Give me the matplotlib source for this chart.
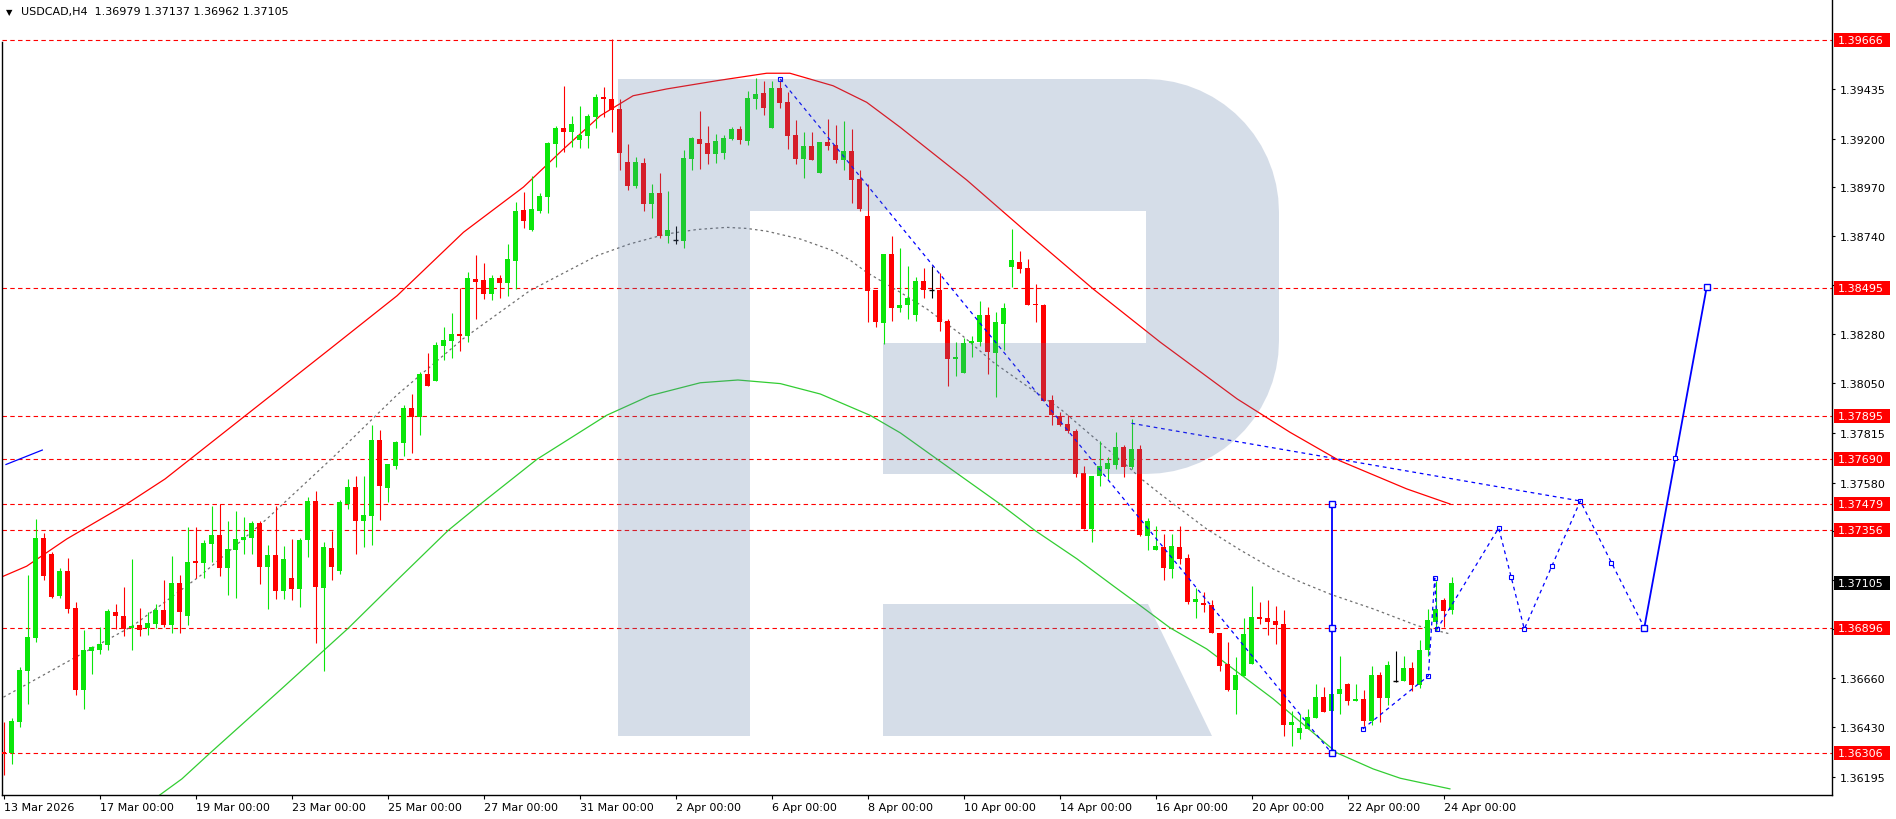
import matplotlib
matplotlib.use('Agg')
import matplotlib.pyplot as plt
import matplotlib.transforms as mtransforms
from matplotlib.path import Path
from matplotlib.patches import PathPatch, Rectangle
import numpy as np

# USDCAD H4 candles, 13 Mar 2026 00:00 .. 24 Apr 2026 04:00
opens = [1.36313, 1.36306, 1.36454, 1.36690, 1.36850, 1.37319, 1.37244, 1.37046, 1.37164, 1.36989,
         1.36605, 1.36788, 1.36792, 1.36817, 1.36971, 1.36952, 1.36894, 1.36909, 1.36894, 1.36914,
         1.36980, 1.36911, 1.37107, 1.36952, 1.37212, 1.37203, 1.37292, 1.37333, 1.37179, 1.37264,
         1.37307, 1.37321, 1.37390, 1.37184, 1.37239, 1.37071, 1.37128, 1.37080, 1.37307, 1.37493,
         1.37085, 1.37272, 1.37165, 1.37479, 1.37559, 1.37401, 1.37424, 1.37780, 1.37554, 1.37658,
         1.37768, 1.37931, 1.37890, 1.38093, 1.38060, 1.38225, 1.38247, 1.38280, 1.38272, 1.38539,
         1.38534, 1.38468, 1.38544, 1.38520, 1.38625, 1.38864, 1.38770, 1.38858, 1.38927, 1.39175,
         1.39250, 1.39233, 1.39194, 1.39212, 1.39303, 1.39394, 1.39389, 1.39339, 1.39090, 1.38978,
         1.39085, 1.38893, 1.38944, 1.38739, 1.38724, 1.38719, 1.39105, 1.39198, 1.39179, 1.39129,
         1.39134, 1.39198, 1.39245, 1.39190, 1.39388, 1.39415, 1.39251, 1.39438, 1.39372, 1.39217,
         1.39105, 1.39165, 1.39039, 1.39184, 1.39170, 1.39101, 1.39141, 1.39009, 1.38835, 1.38487,
         1.38333, 1.38656, 1.38404, 1.38414, 1.38367, 1.38530, 1.38489, 1.38489, 1.38343, 1.38162,
         1.38098, 1.38235, 1.38244, 1.38371, 1.38192, 1.38329, 1.38597, 1.38621, 1.38591, 1.38418,
         1.38418, 1.37969, 1.37892, 1.37856, 1.37823, 1.37625, 1.37362, 1.37610, 1.37643, 1.37663,
         1.37748, 1.37652, 1.37739, 1.37330, 1.37264, 1.37277, 1.37175, 1.37277, 1.37225, 1.37019,
         1.37013, 1.37004, 1.36873, 1.36723, 1.36603, 1.36671, 1.36723, 1.36947, 1.36943, 1.36928,
         1.36914, 1.36440, 1.36402, 1.36421, 1.36473, 1.36570, 1.36506, 1.36583, 1.36632, 1.36553,
         1.36561, 1.36459, 1.36674, 1.36567, 1.36647, 1.36647, 1.36705, 1.36628, 1.36792, 1.36924,
         1.37027, 1.36979]
highs = [1.36451, 1.36473, 1.36713, 1.37145, 1.37409, 1.37343, 1.37253, 1.37176, 1.37225, 1.37018,
         1.36886, 1.36812, 1.36898, 1.36982, 1.37008, 1.37090, 1.37220, 1.36989, 1.36969, 1.37008,
         1.37123, 1.37234, 1.37143, 1.37371, 1.37371, 1.37310, 1.37471, 1.37478, 1.37399, 1.37446,
         1.37418, 1.37399, 1.37399, 1.37286, 1.37470, 1.37281, 1.37314, 1.37319, 1.37514, 1.37540,
         1.37302, 1.37352, 1.37500, 1.37597, 1.37612, 1.37612, 1.37851, 1.37828, 1.37667, 1.37777,
         1.37945, 1.37997, 1.38099, 1.38190, 1.38241, 1.38313, 1.38379, 1.38495, 1.38570, 1.38652,
         1.38614, 1.38558, 1.38558, 1.38704, 1.38900, 1.38950, 1.39022, 1.38942, 1.39184, 1.39261,
         1.39449, 1.39308, 1.39355, 1.39316, 1.39412, 1.39445, 1.39667, 1.39389, 1.39174, 1.39113,
         1.39108, 1.38986, 1.39038, 1.38951, 1.38790, 1.39146, 1.39209, 1.39330, 1.39259, 1.39221,
         1.39217, 1.39254, 1.39259, 1.39422, 1.39485, 1.39471, 1.39473, 1.39477, 1.39421, 1.39287,
         1.39231, 1.39231, 1.39184, 1.39292, 1.39264, 1.39283, 1.39245, 1.39052, 1.38986, 1.38487,
         1.38656, 1.38741, 1.38685, 1.38600, 1.38549, 1.38591, 1.38600, 1.38567, 1.38348, 1.38241,
         1.38263, 1.38272, 1.38436, 1.38409, 1.38385, 1.38426, 1.38775, 1.38671, 1.38633, 1.38516,
         1.38423, 1.37993, 1.37911, 1.37899, 1.37833, 1.37660, 1.37610, 1.37775, 1.37699, 1.37820,
         1.37757, 1.37880, 1.37757, 1.37412, 1.37377, 1.37338, 1.37338, 1.37376, 1.37244, 1.37084,
         1.37065, 1.37027, 1.36873, 1.36829, 1.36760, 1.36943, 1.37093, 1.37018, 1.37027, 1.36999,
         1.36980, 1.36506, 1.36492, 1.36511, 1.36629, 1.36618, 1.36583, 1.36764, 1.36636, 1.36632,
         1.36605, 1.36718, 1.36687, 1.36740, 1.36787, 1.36764, 1.36734, 1.36839, 1.36985, 1.37118,
         1.37037, 1.37137]
lows = [1.36200, 1.36255, 1.36427, 1.36537, 1.36828, 1.37123, 1.37038, 1.37038, 1.36967, 1.36577,
        1.36515, 1.36679, 1.36774, 1.36793, 1.36891, 1.36859, 1.36793, 1.36859, 1.36864, 1.36894,
        1.36901, 1.36873, 1.36869, 1.36911, 1.37132, 1.37132, 1.37205, 1.37142, 1.37048, 1.37038,
        1.37241, 1.37241, 1.37104, 1.36986, 1.37033, 1.37033, 1.37029, 1.36996, 1.37231, 1.36826,
        1.36690, 1.37123, 1.37151, 1.37453, 1.37244, 1.37278, 1.37287, 1.37404, 1.37487, 1.37644,
        1.37705, 1.37721, 1.37804, 1.38036, 1.38060, 1.38157, 1.38167, 1.38201, 1.38244, 1.38350,
        1.38445, 1.38441, 1.38449, 1.38460, 1.38492, 1.38779, 1.38765, 1.38850, 1.38850, 1.39065,
        1.39135, 1.39159, 1.39156, 1.39156, 1.39250, 1.39303, 1.39232, 1.39053, 1.38958, 1.38967,
        1.38860, 1.38826, 1.38730, 1.38708, 1.38703, 1.38686, 1.39053, 1.39057, 1.39082, 1.39086,
        1.39105, 1.39193, 1.39174, 1.39171, 1.39339, 1.39313, 1.39251, 1.39344, 1.39151, 1.39082,
        1.39016, 1.39101, 1.39039, 1.39148, 1.39086, 1.39053, 1.38898, 1.38860, 1.38338, 1.38314,
        1.38232, 1.38342, 1.38385, 1.38348, 1.38343, 1.38447, 1.38447, 1.38296, 1.38037, 1.38084,
        1.38098, 1.38173, 1.38225, 1.38093, 1.37985, 1.38206, 1.38503, 1.38567, 1.38414, 1.38338,
        1.37966, 1.37852, 1.37847, 1.37815, 1.37605, 1.37362, 1.37302, 1.37563, 1.37597, 1.37644,
        1.37605, 1.37644, 1.37330, 1.37260, 1.37264, 1.37123, 1.37132, 1.37194, 1.37010, 1.36944,
        1.36972, 1.36869, 1.36694, 1.36596, 1.36489, 1.36671, 1.36723, 1.36914, 1.36862, 1.36820,
        1.36388, 1.36341, 1.36374, 1.36421, 1.36473, 1.36501, 1.36506, 1.36489, 1.36534, 1.36553,
        1.36435, 1.36440, 1.36454, 1.36534, 1.36640, 1.36643, 1.36596, 1.36614, 1.36765, 1.36886,
        1.36900, 1.36962]
closes = [1.36302, 1.36457, 1.36697, 1.36853, 1.37319, 1.37142, 1.37043, 1.37164, 1.36986, 1.36605,
          1.36792, 1.36806, 1.36820, 1.36975, 1.36949, 1.36891, 1.36905, 1.36883, 1.36919, 1.36980,
          1.36911, 1.37107, 1.36972, 1.37206, 1.37203, 1.37296, 1.37333, 1.37179, 1.37267, 1.37314,
          1.37324, 1.37390, 1.37184, 1.37239, 1.37071, 1.37220, 1.37080, 1.37311, 1.37493, 1.37090,
          1.37277, 1.37184, 1.37489, 1.37559, 1.37401, 1.37429, 1.37780, 1.37565, 1.37667, 1.37771,
          1.37931, 1.37890, 1.38093, 1.38036, 1.38230, 1.38252, 1.38280, 1.38272, 1.38544, 1.38526,
          1.38468, 1.38544, 1.38520, 1.38633, 1.38858, 1.38814, 1.38869, 1.38930, 1.39179, 1.39250,
          1.39233, 1.39269, 1.39217, 1.39307, 1.39398, 1.39387, 1.39336, 1.39132, 1.38978, 1.39090,
          1.38893, 1.38944, 1.38739, 1.38768, 1.38724, 1.39108, 1.39203, 1.39176, 1.39129, 1.39188,
          1.39203, 1.39245, 1.39193, 1.39391, 1.39410, 1.39345, 1.39438, 1.39369, 1.39212, 1.39105,
          1.39165, 1.39101, 1.39184, 1.39167, 1.39101, 1.39141, 1.39006, 1.38868, 1.38484, 1.38338,
          1.38656, 1.38403, 1.38417, 1.38450, 1.38530, 1.38489, 1.38489, 1.38338, 1.38162, 1.38172,
          1.38239, 1.38249, 1.38371, 1.38197, 1.38338, 1.38404, 1.38626, 1.38588, 1.38418, 1.38414,
          1.37966, 1.37899, 1.37852, 1.37823, 1.37619, 1.37362, 1.37610, 1.37658, 1.37673, 1.37748,
          1.37652, 1.37739, 1.37335, 1.37401, 1.37279, 1.37178, 1.37282, 1.37220, 1.37019, 1.37032,
          1.37001, 1.36869, 1.36718, 1.36603, 1.36674, 1.36867, 1.36947, 1.36938, 1.36924, 1.36910,
          1.36440, 1.36450, 1.36424, 1.36475, 1.36570, 1.36501, 1.36583, 1.36608, 1.36553, 1.36561,
          1.36459, 1.36674, 1.36567, 1.36721, 1.36647, 1.36705, 1.36628, 1.36792, 1.36933, 1.36985,
          1.36977, 1.37105]

date_ticks = [0, 12, 24, 36, 48, 60, 72, 84, 96, 108, 120, 132, 144, 156, 168, 180]
date_labels = ['13 Mar 2026', '17 Mar 00:00', '19 Mar 00:00', '23 Mar 00:00', '25 Mar 00:00',
               '27 Mar 00:00', '31 Mar 00:00', '2 Apr 00:00', '6 Apr 00:00', '8 Apr 00:00',
               '10 Apr 00:00', '14 Apr 00:00', '16 Apr 00:00', '20 Apr 00:00', '22 Apr 00:00',
               '24 Apr 00:00']
price_ticks = [1.39435, 1.39200, 1.38970, 1.38740, 1.38510, 1.38280, 1.38050, 1.37815, 1.37580,
               1.37350, 1.37120, 1.36890, 1.36660, 1.36430, 1.36195]
levels = [1.39666, 1.38495, 1.37895, 1.37690, 1.37479, 1.37356, 1.36896, 1.36306]
bid = 1.37105

# indicator lines (bar index, price)
mid_x = [0, 7.9, 16.2, 24.6, 32.9, 41.2, 49.2, 57.4, 65.8, 74.2, 78.3, 82.9, 86.7, 90.4, 92.9,
         95.4, 99.6, 103.7, 105.8, 107.9, 112.1, 115.4, 119.6, 123.7, 127.9, 132.1, 136.2, 140.4,
         142.4, 144.6, 150.4, 154.6, 158.7, 162.1, 166, 171.2, 176.7, 180.8]
mid_y = [1.36569, 1.36734, 1.36906, 1.37141, 1.37408, 1.37699, 1.37993, 1.38256, 1.38484, 1.38649,
         1.38704, 1.38751, 1.38772, 1.38782, 1.38777, 1.38764, 1.38727, 1.38672, 1.38628, 1.38570,
         1.38476, 1.38398, 1.38280, 1.38147, 1.38035, 1.37927, 1.37795, 1.37660, 1.37592, 1.37526,
         1.37361, 1.37262, 1.37173, 1.37112, 1.37052, 1.36985, 1.36906, 1.36867]
up_x = [0, 2.9, 7.9, 15.4, 20.2, 30.5, 40.8, 49.2, 57.5, 65, 70, 74.6, 78.7, 82.9, 89.2, 95.4,
        98.3, 103.7, 107.9, 112.1, 120.4, 127.9, 136.2, 144.6, 154.2, 160.8, 167, 175.4, 180.8]
up_y = [1.37139, 1.37186, 1.37314, 1.37479, 1.37597, 1.37903, 1.38209, 1.38460, 1.38759, 1.38972,
        1.39151, 1.39308, 1.39402, 1.39434, 1.39473, 1.39508, 1.39508, 1.39449, 1.39371, 1.39253,
        1.39005, 1.38759, 1.38492, 1.38241, 1.37974, 1.37817, 1.37683, 1.37550, 1.37479]
lo_x = [19.2, 22.3, 25.8, 34.6, 43.1, 49.6, 55.6, 59.6, 66.7, 75.4, 80.8, 87.1, 91.8, 97.1, 102.1,
        108.3, 112.1, 116.7, 124.6, 128.9, 134.2, 138.8, 142.1, 145.8, 150.4, 158.7, 166.7, 171.2,
        174.6, 180.8]
lo_y = [1.36099, 1.36184, 1.36305, 1.36603, 1.36894, 1.37135, 1.37355, 1.37478, 1.37690, 1.37897,
        1.37989, 1.38050, 1.38063, 1.38046, 1.37997, 1.37897, 1.37814, 1.37690, 1.37478, 1.37355,
        1.37220, 1.37091, 1.37000, 1.36896, 1.36796, 1.36561, 1.36306, 1.36231, 1.36187, 1.36137]

# drawn objects
left_x = [0.31, 4.85]
left_y = [1.37665, 1.37733]
down_x = [97.1, 166]
down_y = [1.39481, 1.36306]
flat_x = [141, 197.1]
flat_y = [1.37859, 1.37493]
vert_bar = 166
vert_y = [1.37479, 1.36896, 1.36306]
fc_x = [169.9, 178.1, 178.9, 179.2, 186.9, 190.1, 197.1, 205.1]
fc_y = [1.36419, 1.36669, 1.37130, 1.36890, 1.37366, 1.36890, 1.37493, 1.36896]
fs_x = [205.1, 212.9]
fs_y = [1.36896, 1.38501]
mk_x = [188.4, 193.5, 200.9, 208.9]
mk_y = [1.37135, 1.37188, 1.37202, 1.37696]

GREEN = '#0ae60a'
RED = '#ff0000'
BLUE = '#0000ff'

W, H = 1896, 820
fig = plt.figure(figsize=(W / 100, H / 100), dpi=100)
ax = fig.add_axes([2 / W, 24 / H, 1830 / W, 795 / H])
ax.set_xlim(-0.1875, 228.56)
ax.set_ylim(1.361081, 1.398530)
ppx = 795 / (1.398530 - 1.361081)  # pixels per price unit

for lv in levels:
    ax.axhline(lv, color=RED, lw=0.8, ls=(0, (4, 3)), zorder=1)

ax.plot(up_x, up_y, color=RED, lw=0.9, zorder=2)
ax.plot(mid_x, mid_y, color='#707070', lw=0.9, ls=(0, (2, 2.5)), zorder=2)
ax.plot(lo_x, lo_y, color='#32cd32', lw=0.9, zorder=2)

# candles
o = np.array(opens); h = np.array(highs); l = np.array(lows); c = np.array(closes)
x = np.arange(len(o))
up = c > o
dn = c < o
dj = c == o
minh = 1.2 / ppx
ax.vlines(x[up], l[up], h[up], color=GREEN, lw=0.8, zorder=3)
ax.vlines(x[dn], l[dn], h[dn], color=RED, lw=0.8, zorder=3)
ax.vlines(x[dj], l[dj], h[dj], color='k', lw=0.8, zorder=3)
ax.bar(x[up], np.maximum(c - o, minh)[up], bottom=o[up], width=0.625, color=GREEN, lw=0, zorder=3.5)
ax.bar(x[dn], np.maximum(o - c, minh)[dn], bottom=c[dn], width=0.625, color=RED, lw=0, zorder=3.5)
ax.hlines(c[dj], x[dj] - 0.3125, x[dj] + 0.3125, color='k', lw=1, zorder=3.5)

# blue drawings
ax.plot(left_x, left_y, color=BLUE, lw=0.9, zorder=4)
ax.plot(down_x, down_y, color=BLUE, lw=0.9, ls=(0, (3, 3)), zorder=4)
ax.plot(flat_x, flat_y, color=BLUE, lw=0.9, ls=(0, (3, 3)), zorder=4)
ax.plot([vert_bar, vert_bar], [vert_y[0], vert_y[-1]], color=BLUE, lw=1.3, zorder=4)
ax.plot([vert_bar] * 3, vert_y, ls='none', marker='s', ms=5, mfc='white', mec=BLUE, mew=1, zorder=4.5)
ax.plot(fc_x, fc_y, color=BLUE, lw=0.9, ls=(0, (3, 3)), zorder=4)
ax.plot(fc_x, fc_y, ls='none', marker='s', ms=3.5, mfc='none', mec=BLUE, mew=0.8, zorder=4.5)
ax.plot(fs_x, fs_y, color=BLUE, lw=1.3, zorder=4)
ax.plot(fs_x, fs_y, ls='none', marker='s', ms=5, mfc='white', mec=BLUE, mew=1, zorder=4.5)
ax.plot(mk_x, mk_y, ls='none', marker='s', ms=3.5, mfc='white', mec=BLUE, mew=0.8, zorder=4.5)
ax.plot(down_x[:1], down_y[:1], ls='none', marker='s', ms=3.5, mfc='none', mec=BLUE, mew=0.8, zorder=4.5)


# watermark logo, pixel outline -> axes fraction
def frac(px_, py_):
    return ((px_ - 2) / 1830, (796 - py_) / 795)


t = np.linspace(0, np.pi / 2, 16)
outline = [(618, 80), (1146, 80)]
outline += [(1146 + 133 * np.sin(a), 213 - 133 * np.cos(a)) for a in t]
outline += [(1146 + 133 * np.cos(a), 342 + 133 * np.sin(a)) for a in t]
outline += [(883, 475), (883, 344), (1146, 344), (1146, 212), (750, 212), (750, 737), (618, 737), (618, 80)]
leg = [(883, 605), (1148, 605), (1212, 737), (883, 737), (883, 605)]
verts, codes = [], []
for poly in (outline, leg):
    verts += [frac(*p) for p in poly]
    codes += [Path.MOVETO] + [Path.LINETO] * (len(poly) - 2) + [Path.CLOSEPOLY]
ax.add_patch(PathPatch(Path(verts, codes), transform=ax.transAxes, facecolor='#5a78a5',
                       edgecolor='none', alpha=0.25, zorder=6))

# axes look
ax.spines['top'].set_visible(False)
ax.spines['left'].set_bounds(1.361081, 1.39655)
for s in ['left', 'right', 'bottom']:
    ax.spines[s].set_linewidth(1)
ax.yaxis.tick_right()
ax.set_yticks(price_ticks, ['%.5f' % p for p in price_ticks])
ax.tick_params(axis='y', direction='out', length=2.5, width=0.8, pad=3, labelsize=8)
ax.set_xticks(date_ticks, date_labels)
ax.tick_params(axis='x', direction='out', length=3, width=0.8, pad=2, labelsize=8)
for lab in ax.get_xticklabels():
    lab.set_ha('left')

tr = mtransforms.blended_transform_factory(ax.transAxes, ax.transData)
bx0 = (1834 - 2) / 1830
bw = 56 / 1830
bh = 14 / ppx
for lv, col in [(lv, RED) for lv in levels] + [(bid, 'black')]:
    ax.add_patch(Rectangle((bx0, lv - bh / 2), bw, bh, transform=tr, facecolor=col,
                           edgecolor='none', clip_on=False, zorder=20))
    ax.text((1838 - 2) / 1830, lv, '%.5f' % lv, transform=tr, color='white', fontsize=8,
            va='center', ha='left', clip_on=False, zorder=21)

fig.text(6 / W, 1 - 12.5 / H, '\u25bc', fontsize=6, va='center', ha='left')
fig.text(21 / W, 1 - 12.5 / H, 'USDCAD,H4  1.36979 1.37137 1.36962 1.37105', fontsize=8,
         va='center', ha='left')

fig.savefig('out.png', dpi=100, facecolor='white')
